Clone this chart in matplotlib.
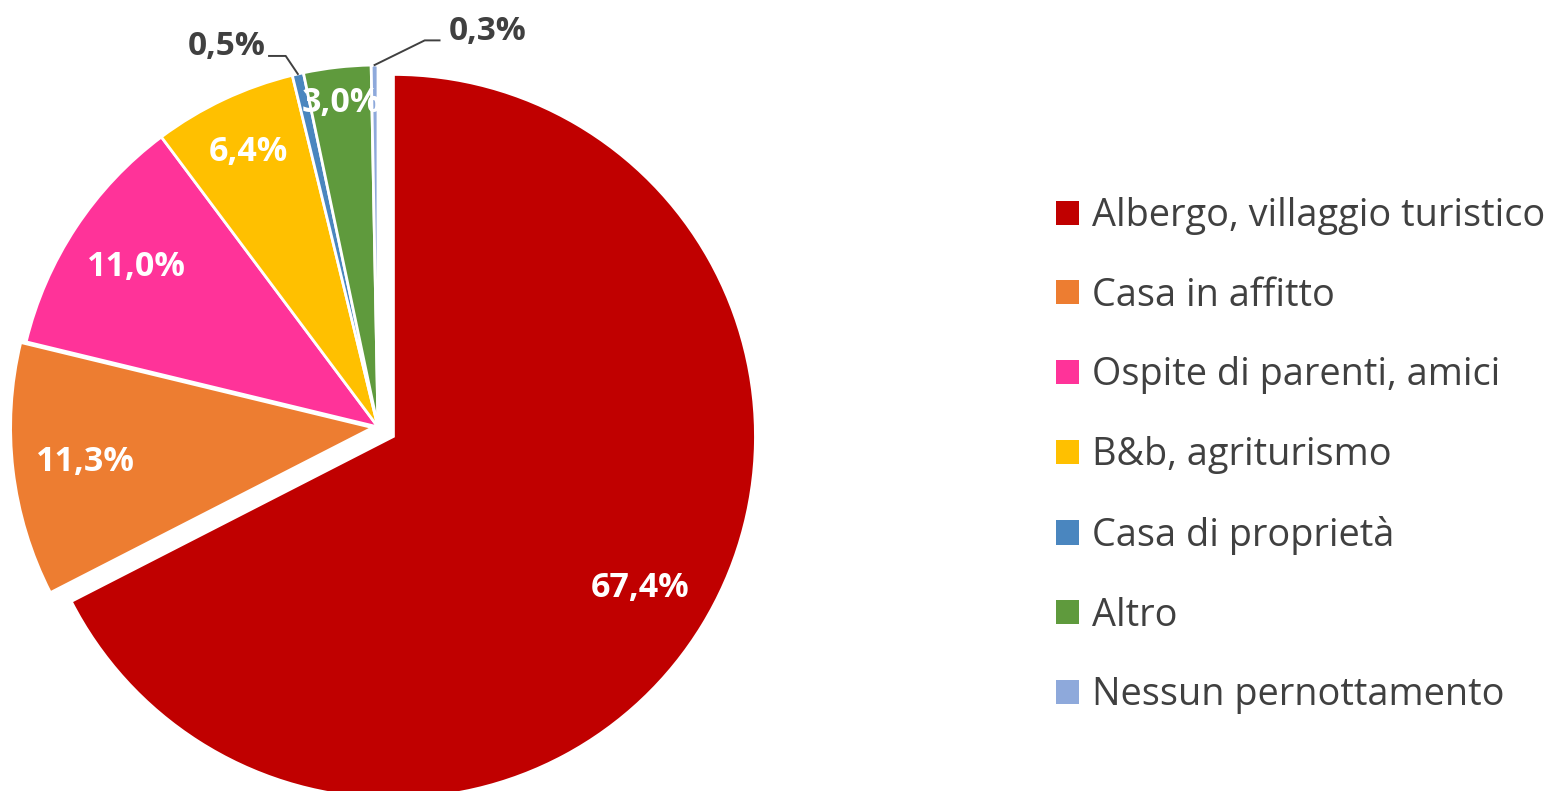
import matplotlib.pyplot as plt
from matplotlib.patches import Patch
import numpy as np

# dati del grafico (percentuali)
categorie = ["Albergo, villaggio turistico", "Casa in affitto", "Ospite di parenti, amici",
             "B&b, agriturismo", "Casa di proprietà", "Altro", "Nessun pernottamento"]
valori = [67.4, 11.3, 11.0, 6.4, 0.5, 3.0, 0.3]
colori = ["#C00000", "#ED7D31", "#FF3399", "#FFC000", "#4A86BF", "#5F9A3D", "#8EA9DB"]

W, H = 1554, 791
fig = plt.figure(figsize=(W / 100, H / 100), dpi=100)
fig.patch.set_facecolor("white")

# assi quadrati in pixel: centro torta (378, 427), raggio ~362 px
R = 362
cx, cy = 378, H - 427
half = 1.2 * R
ax = fig.add_axes([(cx - half) / W, (cy - half) / H, 2 * half / W, 2 * half / H])

esplodi = [0.05, 0.015, 0, 0, 0, 0, 0]
wedges, _ = ax.pie(valori, colors=colori, startangle=90, counterclock=False,
                   explode=esplodi, radius=1,
                   wedgeprops=dict(edgecolor="white", linewidth=2.0))
ax.set_xlim(-1.2, 1.2)
ax.set_ylim(-1.2, 1.2)
ax.axis("off")

def etichetta(v):
    return ("%.1f" % v).replace(".", ",") + "%"

fonte = "Open Sans"
grigio = "#404040"

# etichette interne (bianche)
dist = [0.8, 0.8, 0.8, 0.84, 0, 0.9, 0]
for i, w in enumerate(wedges):
    if dist[i] == 0:
        continue
    ang = np.deg2rad((w.theta1 + w.theta2) / 2)
    x = w.center[0] + dist[i] * np.cos(ang)
    y = w.center[1] + dist[i] * np.sin(ang)
    ax.text(x, y, etichetta(valori[i]), ha="center", va="center", color="white",
            fontsize=24.5, fontweight="bold", family=fonte)

# etichette esterne con linea guida
def guida(i, gomito, fine, testo_xy, ha):
    w = wedges[i]
    ang = np.deg2rad((w.theta1 + w.theta2) / 2)
    x0 = w.center[0] + np.cos(ang)
    y0 = w.center[1] + np.sin(ang)
    ax.plot([x0, gomito[0], fine[0]], [y0, gomito[1], fine[1]], color=grigio, lw=1.4,
            clip_on=False)
    ax.text(testo_xy[0], testo_xy[1], etichetta(valori[i]), ha=ha, va="center",
            color=grigio, fontsize=24, fontweight="bold", family=fonte)

guida(4, (-0.255, 1.025), (-0.301, 1.025), (-0.31, 1.05), "right")
guida(6, (0.129, 1.068), (0.17, 1.068), (0.195, 1.092), "left")

# legenda
maniglie = [Patch(facecolor=c, edgecolor="none") for c in colori]
fig.legend(maniglie, categorie, loc="upper left", bbox_to_anchor=(1056 / W, 1 - 197 / H),
           frameon=False, borderpad=0, borderaxespad=0, handlelength=0.6, handleheight=0.6,
           handletextpad=0.36, labelspacing=1.1,
           prop=dict(family=fonte, size=27.3), labelcolor=grigio)

fig.savefig("out.png", dpi=100, facecolor="white")
